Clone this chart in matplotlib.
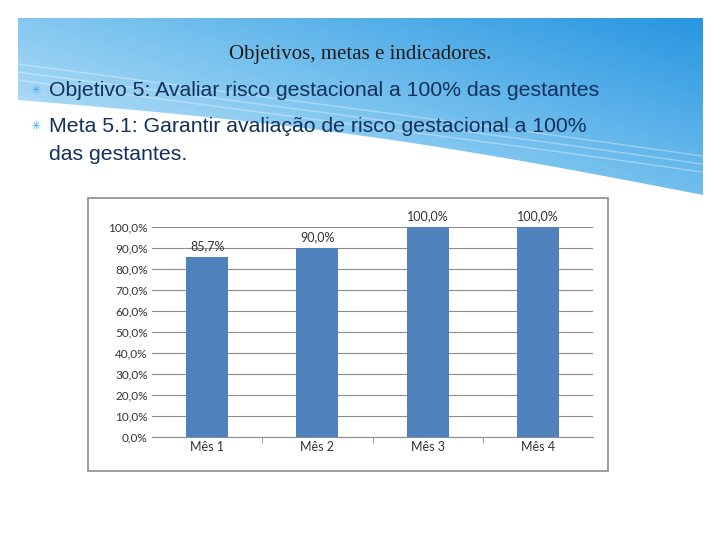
import matplotlib.pyplot as plt
import numpy as np
from matplotlib.patches import Polygon, Rectangle

# chart data
months = ["Mês 1", "Mês 2", "Mês 3", "Mês 4"]
values = [85.7, 90.0, 100.0, 100.0]
ticks = np.arange(0, 101, 10)

fig = plt.figure(figsize=(7.2, 5.4), dpi=100)

# background slide layer in pixel coords
bg = fig.add_axes([0, 0, 1, 1])
bg.set_xlim(0, 720)
bg.set_ylim(540, 0)
bg.axis("off")

# blue header with curved bottom edge
xs = np.linspace(18, 703, 200)
edge = 100 + (xs - 18) / 685 * 95 - 12 * np.sin((xs - 18) / 685 * np.pi)
pts = [(18, 18), (703, 18)] + list(zip(xs[::-1], edge[::-1]))
poly = Polygon(pts, closed=True, facecolor="none", edgecolor="none")
bg.add_patch(poly)
gx, gy = np.meshgrid(np.linspace(0, 1, 100), np.linspace(0, 1, 100))
grad = 0.55 * gx + 0.45 * (1 - gy)
cmap = plt.matplotlib.colors.LinearSegmentedColormap.from_list(
    "hdr", ["#d6eefb", "#7cc4ef", "#2896e0"])
img = bg.imshow(grad, extent=(18, 703, 200, 18), cmap=cmap, aspect="auto", zorder=0)
img.set_clip_path(poly)
# faint light curves
for off in [0, 8, 16]:
    bg.plot(xs, edge - 20 - off + 10 * np.sin((xs - 18) / 200), color="white", alpha=0.35, lw=1)

bg.text(360, 55, "Objetivos, metas e indicadores.", ha="center", va="center",
        fontsize=15, family="Liberation Serif", color="#1a1a1a")
lines = [(90, "Objetivo 5: Avaliar risco gestacional a 100% das gestantes"),
         (126, "Meta 5.1: Garantir avaliação de risco gestacional a 100%")]
for y, t in lines:
    bg.text(36, y, "✳", ha="center", va="center", fontsize=9, color="#4aa8e6", family="DejaVu Sans")
    bg.text(49, y, t, ha="left", va="center", fontsize=15.3, family="Liberation Sans", color="#13315c")
bg.text(49, 155, "das gestantes.", ha="left", va="center", fontsize=15.3, family="Liberation Sans", color="#13315c")

# chart frame
bg.add_patch(Rectangle((88, 198), 520, 273, facecolor="white", edgecolor="#8c8c8c", lw=1.2, zorder=1))

ax = fig.add_axes([152 / 720, 1 - 437 / 540, 441 / 720, 210 / 540])
ax.set_zorder(2)
ax.set_facecolor("none")
x = np.arange(len(months))
ax.bar(x, values, width=0.38, color="#4f81bd", zorder=3)
for xi, v in zip(x, values):
    ax.text(xi, v + 2.5, f"{v:.1f}%".replace(".", ","), ha="center", va="bottom",
            fontsize=9, family="Lato", color="#333333")
ax.set_ylim(0, 100)
ax.set_xlim(-0.5, 3.5)
ax.set_yticks(ticks)
ax.set_yticklabels([f"{t:.1f}%".replace(".", ",") for t in ticks], fontsize=8.5, family="Lato", color="#333333")
ax.set_xticks(x)
ax.set_xticklabels(months, fontsize=9, family="Lato", color="#333333")
ax.yaxis.grid(True, color="#8c8c8c", lw=0.8, zorder=0)
for s in ["top", "right", "left"]:
    ax.spines[s].set_visible(False)
ax.spines["bottom"].set_color("#8c8c8c")
ax.tick_params(length=0, pad=3)
ax.set_xticks([0.5, 1.5, 2.5], minor=True)
ax.tick_params(which="minor", length=4, color="#8c8c8c")

fig.savefig("out.png", dpi=100)
